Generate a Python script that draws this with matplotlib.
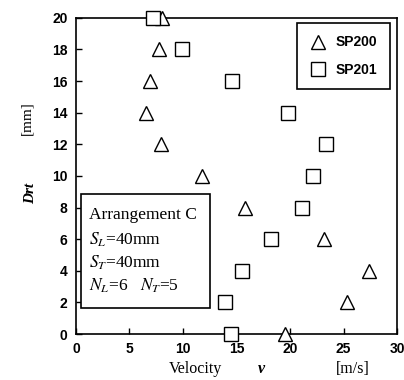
import numpy as np
import matplotlib
matplotlib.use('Agg')
import matplotlib.pyplot as plt
from matplotlib.patches import Rectangle

plt.rcParams['mathtext.fontset'] = 'stix'

# SP200 (triangles)
sp200_v = [19.5, 25.3, 27.4, 23.2, 15.8, 11.8, 7.9, 6.5, 6.9, 7.8, 8.0]
sp200_drt = [0, 2, 4, 6, 8, 10, 12, 14, 16, 18, 20]
# SP201 (squares)
sp201_v = [14.5, 13.9, 15.5, 18.2, 21.1, 22.1, 23.4, 19.8, 14.6, 9.9, 7.2]
sp201_drt = [0, 2, 4, 6, 8, 10, 12, 14, 16, 18, 20]

xticks = [0, 5, 10, 15, 20, 25, 30]
yticks = [0, 2, 4, 6, 8, 10, 12, 14, 16, 18, 20]

fig = plt.figure(figsize=(4.04, 3.80), dpi=100)
ax = fig.add_axes([0.188, 0.121, 0.795, 0.832])

ax.plot(sp200_v, sp200_drt, linestyle='none', marker='^', markersize=10,
        markerfacecolor='white', markeredgecolor='black', markeredgewidth=1.0,
        clip_on=False, label='SP200', zorder=3)
ax.plot(sp201_v, sp201_drt, linestyle='none', marker='s', markersize=10,
        markerfacecolor='white', markeredgecolor='black', markeredgewidth=1.0,
        clip_on=False, label='SP201', zorder=3)

ax.set_xlim(0, 30)
ax.set_ylim(0, 20)
ax.set_xticks(xticks)
ax.set_yticks(yticks)
ax.tick_params(direction='in', length=4, width=1, labelsize=10, pad=6)
for lab in ax.get_xticklabels() + ax.get_yticklabels():
    lab.set_fontweight('bold')
    lab.set_family('Liberation Sans')
for s in ax.spines.values():
    s.set_linewidth(1.2)

leg = ax.legend(loc='upper right', bbox_to_anchor=(0.977, 0.984), borderaxespad=0,
                fancybox=False, edgecolor='black', framealpha=1, handletextpad=0.6,
                borderpad=0.9, labelspacing=0.95, handlelength=1.3,
                prop={'family': 'Liberation Sans', 'weight': 'bold', 'size': 10})
leg.get_frame().set_linewidth(1.2)

# annotation box
box = Rectangle((0.016, 0.082), 0.401, 0.36, transform=ax.transAxes,
                facecolor='white', edgecolor='black', linewidth=1.2, zorder=2)
ax.add_patch(box)
lines = ['Arrangement C', '$S_L$=40mm', '$S_T$=40mm', '$N_L$=6   $N_T$=5']
line_y = [0.377, 0.297, 0.225, 0.152]
for t, yy in zip(lines, line_y):
    ax.text(0.04, yy, t, transform=ax.transAxes,
            fontsize=12.5, family='Liberation Serif', va='center', ha='left', zorder=4)

# axis labels
fig.text(0.067, 0.69, '[mm]', rotation=90, family='Liberation Serif',
         fontsize=11, ha='center', va='center')
fig.text(0.075, 0.49, 'Drt', rotation=90, family='Liberation Serif',
         style='italic', fontweight='bold', fontsize=11, ha='center', va='center')
fig.text(0.483, 0.008, 'Velocity', family='Liberation Serif', fontsize=11.5,
         ha='center', va='bottom')
fig.text(0.648, 0.008, 'v', family='Liberation Serif', style='italic',
         fontweight='bold', fontsize=11.5, ha='center', va='bottom')
fig.text(0.874, 0.008, '[m/s]', family='Liberation Serif', fontsize=11.5,
         ha='center', va='bottom')

fig.savefig('out.png', dpi=100)
